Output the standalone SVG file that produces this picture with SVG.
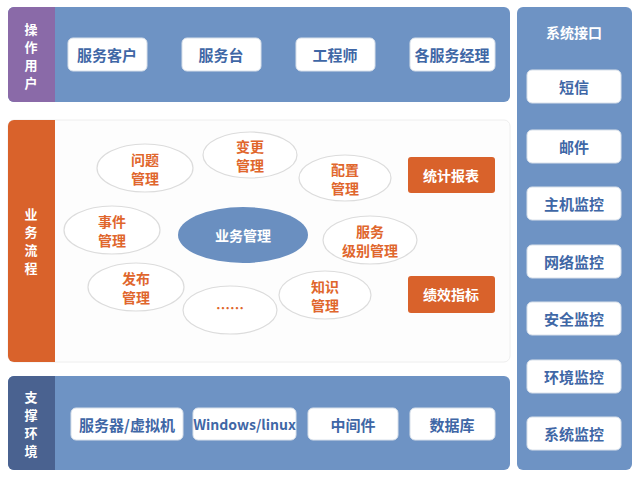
<svg xmlns="http://www.w3.org/2000/svg" width="640" height="480" viewBox="0 0 640 480">
<style>
text{font-family:"Noto Sans CJK SC","Noto Sans",sans-serif;font-weight:bold;text-anchor:middle;dominant-baseline:central}
.wb{fill:#fff;stroke:#d8e0ea;stroke-width:1}
.bt{fill:#3f67a6;font-size:15px}
.st{fill:#fff;font-size:14px}
.vt{fill:#fff;font-size:13px}
.el{fill:#fff;stroke:#dcdcdc;stroke-width:1.2}
.ot{fill:#e0662c;font-size:14px}
.ob{fill:#d9622b}
.wt{fill:#fff;font-size:14px}
</style>
<rect width="640" height="480" fill="#fff"/>
<g id="layer-users">
<rect x="8" y="7" width="502" height="95" rx="6" fill="#6e93c4"/>
<path d="M14 7h41v95h-41a6 6 0 0 1-6-6v-83a6 6 0 0 1 6-6z" fill="#8a6aa8"/>
<text class="vt" x="31" y="28">操</text><text class="vt" x="31" y="46">作</text><text class="vt" x="31" y="64">用</text><text class="vt" x="31" y="82">户</text>
<g id="n-kehu"><rect class="wb" x="68" y="38" width="79" height="33" rx="5"/><text class="bt" x="107" y="54">服务客户</text></g>
<g id="n-fwt"><rect class="wb" x="182" y="38" width="79" height="33" rx="5"/><text class="bt" x="221" y="54">服务台</text></g>
<g id="n-gcs"><rect class="wb" x="296" y="38" width="79" height="33" rx="5"/><text class="bt" x="335" y="54">工程师</text></g>
<g id="n-jl"><rect class="wb" x="410" y="38" width="85" height="33" rx="5"/><text class="bt" x="452" y="54">各服务经理</text></g>
</g>
<g id="layer-biz">
<rect x="8" y="120" width="502" height="242" rx="6" fill="#fdfdfd" stroke="#eeeeee"/>
<path d="M14 120h41v242h-41a6 6 0 0 1-6-6v-230a6 6 0 0 1 6-6z" fill="#d9622b"/>
<text class="vt" x="31" y="213">业</text><text class="vt" x="31" y="231">务</text><text class="vt" x="31" y="249">流</text><text class="vt" x="31" y="267">程</text>
<g id="n-wt"><ellipse class="el" cx="145" cy="168" rx="48" ry="24"/><text class="ot" x="145" y="159">问题</text><text class="ot" x="145" y="178">管理</text></g>
<g id="n-bg"><ellipse class="el" cx="250" cy="155" rx="47" ry="23"/><text class="ot" x="250" y="146">变更</text><text class="ot" x="250" y="165">管理</text></g>
<g id="n-pz"><ellipse class="el" cx="345" cy="178" rx="46" ry="23"/><text class="ot" x="345" y="169">配置</text><text class="ot" x="345" y="188">管理</text></g>
<g id="n-sj"><ellipse class="el" cx="112" cy="230" rx="48" ry="24"/><text class="ot" x="112" y="221">事件</text><text class="ot" x="112" y="240">管理</text></g>
<g id="n-yw"><ellipse cx="243" cy="235" rx="65" ry="28" fill="#6a8fc0"/><text class="wt" x="243" y="235">业务管理</text></g>
<g id="n-jb"><ellipse class="el" cx="370" cy="240" rx="47" ry="24"/><text class="ot" x="370" y="231">服务</text><text class="ot" x="370" y="250">级别管理</text></g>
<g id="n-fb"><ellipse class="el" cx="136" cy="287" rx="48" ry="24"/><text class="ot" x="136" y="278">发布</text><text class="ot" x="136" y="297">管理</text></g>
<g id="n-dots"><ellipse class="el" cx="230" cy="310" rx="47" ry="24"/><text class="ot" x="230" y="307">……</text></g>
<g id="n-zs"><ellipse class="el" cx="325" cy="295" rx="46" ry="24"/><text class="ot" x="325" y="286">知识</text><text class="ot" x="325" y="305">管理</text></g>
<g id="n-tj"><rect class="ob" x="408" y="157" width="87" height="36" rx="3"/><text class="wt" x="451" y="175">统计报表</text></g>
<g id="n-jx"><rect class="ob" x="408" y="276" width="87" height="37" rx="3"/><text class="wt" x="451" y="294">绩效指标</text></g>
</g>
<g id="layer-env">
<rect x="8" y="376" width="502" height="94" rx="6" fill="#6e93c4"/>
<path d="M14 376h41v94h-41a6 6 0 0 1-6-6v-82a6 6 0 0 1 6-6z" fill="#4a6290"/>
<text class="vt" x="31" y="396">支</text><text class="vt" x="31" y="414">撑</text><text class="vt" x="31" y="432">环</text><text class="vt" x="31" y="450">境</text>
<g id="n-fwq"><rect class="wb" x="71" y="408" width="112" height="32" rx="5"/><text class="bt" x="127" y="424">服务器/虚拟机</text></g>
<g id="n-win"><rect class="wb" x="193" y="408" width="103" height="32" rx="5"/><text class="bt" x="244.5" y="424" style="font-size:14px">Windows/linux</text></g>
<g id="n-zjj"><rect class="wb" x="308" y="408" width="90" height="32" rx="5"/><text class="bt" x="353" y="424">中间件</text></g>
<g id="n-sjk"><rect class="wb" x="410" y="408" width="85" height="32" rx="5"/><text class="bt" x="452" y="424">数据库</text></g>
</g>
<g id="layer-if">
<rect x="517" y="7" width="115" height="463" rx="6" fill="#6e93c4"/>
<text class="st" x="574" y="32">系统接口</text>
<g id="n-dx"><rect class="wb" x="527" y="70" width="94" height="33" rx="5"/><text class="bt" x="574" y="86">短信</text></g>
<g id="n-yj"><rect class="wb" x="527" y="130" width="94" height="33" rx="5"/><text class="bt" x="574" y="146">邮件</text></g>
<g id="n-zj"><rect class="wb" x="527" y="187" width="94" height="33" rx="5"/><text class="bt" x="574" y="203">主机监控</text></g>
<g id="n-wl"><rect class="wb" x="527" y="245" width="94" height="33" rx="5"/><text class="bt" x="574" y="261">网络监控</text></g>
<g id="n-aq"><rect class="wb" x="527" y="302" width="94" height="33" rx="5"/><text class="bt" x="574" y="318">安全监控</text></g>
<g id="n-hj"><rect class="wb" x="527" y="360" width="94" height="33" rx="5"/><text class="bt" x="574" y="376">环境监控</text></g>
<g id="n-xt"><rect class="wb" x="527" y="417" width="94" height="33" rx="5"/><text class="bt" x="574" y="433">系统监控</text></g>
</g>
<g id="connectors"></g>
</svg>
